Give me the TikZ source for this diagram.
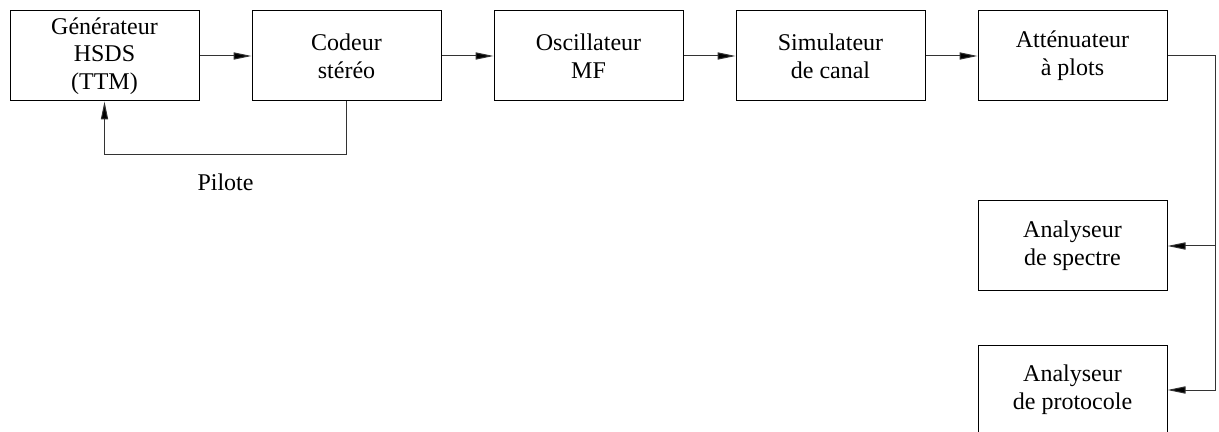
\documentclass[tikz,border=0pt]{standalone}
\usepackage{fontspec}
\setmainfont{Liberation Serif}
\usepackage{tikz}
\usetikzlibrary{positioning,arrows.meta,calc}

\begin{document}
\begin{tikzpicture}[
    bloc/.style={draw, line width=0.5pt, minimum width=94.5pt, minimum height=45pt,
                 align=center, inner sep=0pt, font=\fontsize{12}{13.8}\selectfont},
    fleche/.style={line width=0.5pt, draw=black!80, -{Triangle[length=9pt,width=3.6pt,fill=black]}},
    node distance=26pt
  ]
  % page frame
  \useasboundingbox (0,0) rectangle (609.5pt,-216pt);

  % main chain
  \node[bloc] (gen) at (52.25pt,-28pt) {Générateur\\HSDS\\(TTM)};
  \node[bloc, right=of gen] (cod) {Codeur\\stéréo};
  \node[bloc, right=of cod] (osc) {Oscillateur\\MF};
  \node[bloc, right=of osc] (sim) {Simulateur\\de canal};
  \node[bloc, right=of sim] (att) {Atténuateur\\à plots};

  % analysers
  \node[bloc, below=49.5pt of att] (spec) {Analyseur\\de spectre};
  \node[bloc, below=26.5pt of spec] (proto) {Analyseur\\de protocole};

  \draw[fleche] (gen) -- (cod);
  \draw[fleche] (cod) -- (osc);
  \draw[fleche] (osc) -- (sim);
  \draw[fleche] (sim) -- (att);

  % pilot feedback
  \draw[fleche] (cod.south) -- ++(0,-26.5pt) -| node[pos=0.25, below=9.5pt, inner sep=0pt,
      text=black, font=\fontsize{12}{13.8}\selectfont] (pil) {Pilote} (gen.south);

  % output bus
  \coordinate (bus) at ($(att.east)+(24pt,0)$);
  \draw[fleche] (att.east) -- (bus) |- (proto.east);
  \draw[fleche] (bus |- spec.east) -- (spec.east);
\end{tikzpicture}
\end{document}
